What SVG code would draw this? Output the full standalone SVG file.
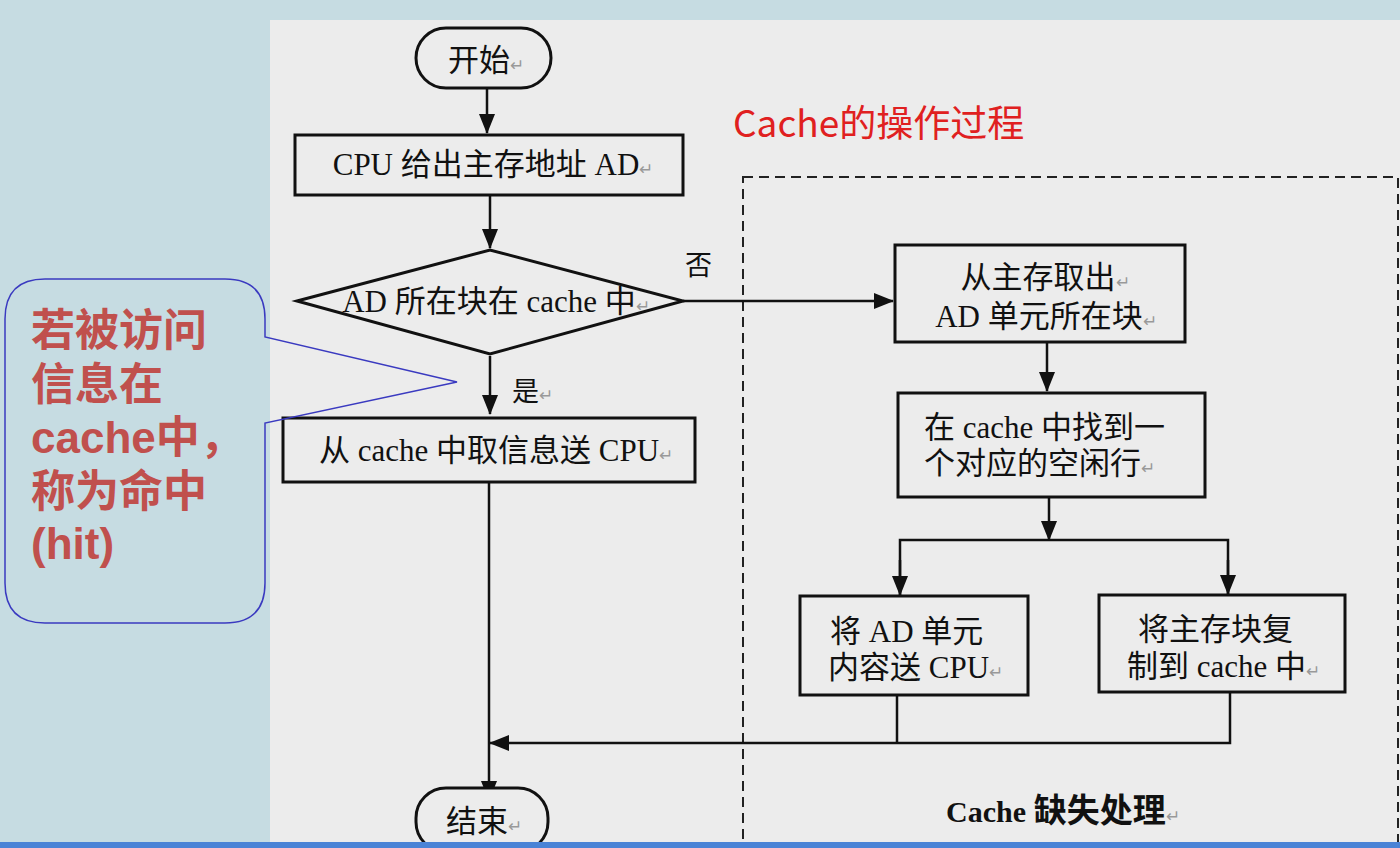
<svg xmlns="http://www.w3.org/2000/svg" width="1400" height="848" viewBox="0 0 1400 848">
<style>
.box{fill:#ececec;stroke:#111;stroke-width:3}
.ln{fill:none;stroke:#111;stroke-width:2.5}
.t{font-family:"Liberation Serif","Noto Sans CJK SC",serif;font-size:31px;fill:#111;text-anchor:middle}
.ts{font-family:"Liberation Serif","Noto Sans CJK SC",serif;font-size:31px;fill:#111}
.pm{fill:#999;font-size:17px}
.call{font-family:"Liberation Sans","Noto Sans CJK SC",sans-serif;font-weight:bold;font-size:44px;fill:#c0504d}
</style>
<defs>
<marker id="ahb" markerWidth="20" markerHeight="20" refX="19" refY="10" orient="auto" markerUnits="userSpaceOnUse" viewBox="0 0 20 20">
<path d="M0,2 L20,10 L0,18 z" fill="#111"/>
</marker>
</defs>
<rect x="0" y="0" width="1400" height="848" fill="#c6dce2"/>
<rect x="270" y="20" width="1130" height="828" fill="#ececec"/>

<g id="title"><text x="733" y="137" font-family="Noto Sans CJK SC,sans-serif" font-size="37" fill="#e02020">Cache的操作过程</text></g>

<g id="miss-region">
<rect x="743" y="177" width="655" height="700" fill="none" stroke="#222" stroke-width="2" stroke-dasharray="10,6"/>
<text x="946" y="822" class="ts" font-weight="bold"><tspan font-size="30">Cache</tspan> <tspan font-size="33">缺失处理</tspan><tspan class="pm" font-weight="normal">↵</tspan></text>
</g>

<g id="connectors">
<line x1="487" y1="88" x2="487" y2="133" class="ln" marker-end="url(#ahb)"/>
<line x1="490" y1="195" x2="490" y2="248" class="ln" marker-end="url(#ahb)"/>
<line x1="683" y1="301" x2="893" y2="301" class="ln" marker-end="url(#ahb)"/>
<text x="685" y="275" font-family="Noto Sans CJK SC,sans-serif" font-size="27" fill="#111">否</text>
<line x1="490" y1="356" x2="490" y2="414" class="ln" marker-end="url(#ahb)"/>
<text x="512" y="401" font-family="Noto Sans CJK SC,sans-serif" font-size="27" fill="#111">是<tspan class="pm">↵</tspan></text>
<line x1="489" y1="482" x2="489" y2="800" class="ln" marker-end="url(#ahb)"/>
<line x1="1047" y1="342" x2="1047" y2="391" class="ln" marker-end="url(#ahb)"/>
<line x1="1049" y1="497" x2="1049" y2="540" class="ln" marker-end="url(#ahb)"/>
<polyline points="900,598 900,540 1228,540 1228,596" class="ln"/>
<line x1="900" y1="560" x2="900" y2="595" class="ln" marker-end="url(#ahb)"/>
<line x1="1228" y1="560" x2="1228" y2="594" class="ln" marker-end="url(#ahb)"/>
<polyline points="897,695 897,743" class="ln"/>
<polyline points="1230,692 1230,743 490,743" class="ln" marker-end="url(#ahb)"/>
</g>

<g id="start">
<rect x="416" y="28" width="135" height="60" rx="30" ry="30" class="box" stroke-width="2"/>
<text x="486" y="71" class="t">开始<tspan class="pm">↵</tspan></text>
</g>

<g id="cpu">
<rect x="295" y="135" width="388" height="60" class="box"/>
<text x="493" y="175" class="t">CPU 给出主存地址 AD<tspan class="pm">↵</tspan></text>
</g>

<g id="decision">
<polygon points="297,301 490,250 683,301 490,354" class="box"/>
<text x="496" y="312" class="t">AD 所在块在 cache 中<tspan class="pm">↵</tspan></text>
</g>

<g id="hit">
<rect x="283" y="418" width="412" height="64" class="box"/>
<text x="496" y="461" class="t">从 cache 中取信息送 CPU<tspan class="pm">↵</tspan></text>
</g>

<g id="end">
<rect x="416" y="788" width="132" height="64" rx="30" ry="30" class="box" stroke-width="2"/>
<text x="484" y="832" class="t">结束<tspan class="pm">↵</tspan></text>
</g>

<g id="fetch">
<rect x="895" y="245" width="290" height="97" class="box"/>
<text x="1045" y="288" class="t">从主存取出<tspan class="pm">↵</tspan></text>
<text x="1046" y="327" class="t">AD 单元所在块<tspan class="pm">↵</tspan></text>
</g>

<g id="find">
<rect x="898" y="393" width="307" height="104" class="box"/>
<text x="924" y="438" class="ts">在 cache 中找到一</text>
<text x="924" y="474" class="ts">个对应的空闲行<tspan class="pm">↵</tspan></text>
</g>

<g id="send">
<rect x="800" y="596" width="228" height="99" class="box"/>
<text x="830" y="642" class="ts">将 AD 单元</text>
<text x="828" y="678" class="ts">内容送 CPU<tspan class="pm">↵</tspan></text>
</g>

<g id="copy">
<rect x="1099" y="595" width="246" height="97" class="box"/>
<text x="1138" y="640" class="ts">将主存块复</text>
<text x="1127" y="677" class="ts">制到 cache 中<tspan class="pm">↵</tspan></text>
</g>

<g id="callout">
<path d="M45,279 L225,279 Q265,279 265,319 L265,337 L457,382 L265,423 L265,583 Q265,623 225,623 L45,623 Q5,623 5,583 L5,319 Q5,279 45,279 Z" fill="none" stroke="#3a3ac0" stroke-width="1.5"/>
<text class="call"><tspan x="31" y="346">若被访问</tspan><tspan x="31" y="400">信息在</tspan><tspan x="31" y="453">cache中，</tspan><tspan x="31" y="507">称为命中</tspan><tspan x="31" y="559">(hit)</tspan></text>
</g>

<rect x="0" y="842" width="1400" height="6" fill="#4a83d6"/>
</svg>
